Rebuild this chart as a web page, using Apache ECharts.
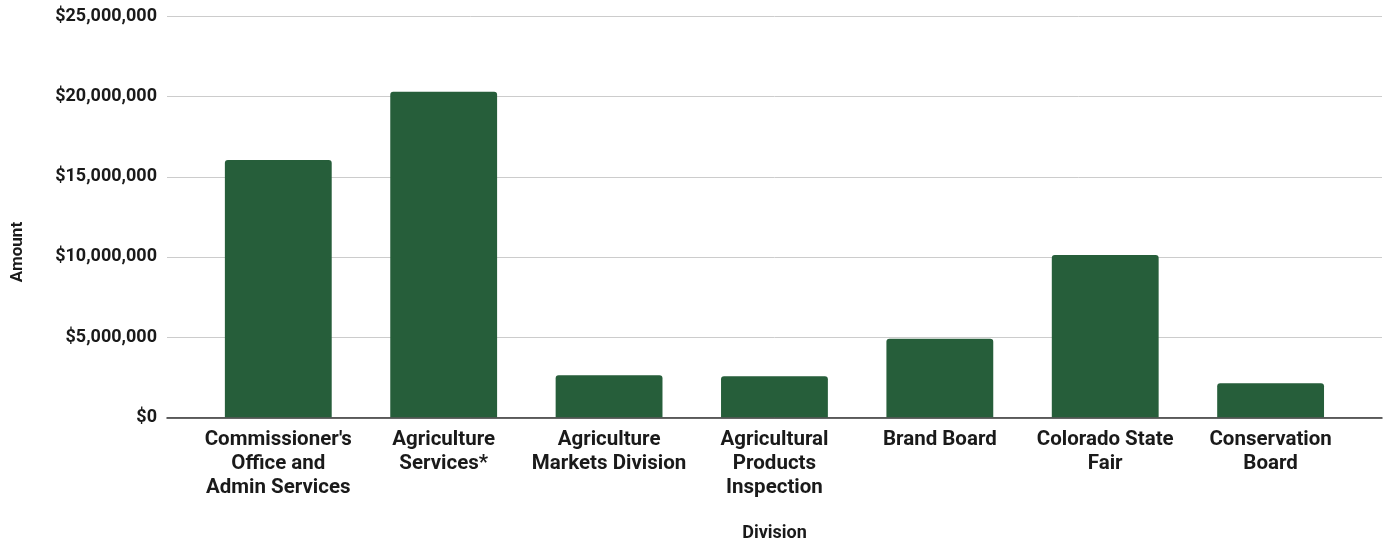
<!DOCTYPE html>
<html>
<head>
<meta charset="utf-8">
<script src="https://cdn.jsdelivr.net/npm/echarts@6/dist/echarts.min.js"></script>
<style>
  html, body { margin: 0; padding: 0; background: #fff; }
  #chart { width: 1389px; height: 541px; }
</style>
</head>
<body>
<div id="chart"></div>
<script>
// Division budget amounts
const divisions = [
  "Commissioner's\nOffice and\nAdmin Services",
  "Agriculture\nServices*",
  "Agriculture\nMarkets Division",
  "Agricultural\nProducts\nInspection",
  "Brand Board",
  "Colorado State\nFair",
  "Conservation\nBoard"
];
const amounts = [16050000, 20300000, 2630000, 2560000, 4900000, 10120000, 2120000];
const yTicks = [0, 5000000, 10000000, 15000000, 20000000, 25000000];

const FONT = 'Roboto';
const fmtDollar = v => '$' + Math.round(v).toLocaleString('en-US');

const chart = echarts.init(document.getElementById('chart'), null, { renderer: 'canvas' });

const gridTop = 16.5, gridBottom = 541 - 417.3;

chart.setOption({
  animation: false,
  backgroundColor: '#ffffff',
  grid: [
    // frame grid: value labels, gridlines and baseline across the full width
    { left: 167, right: 7, top: gridTop, bottom: gridBottom },
    // bar grid: category bands
    { left: 195.6, right: 35.7, top: gridTop, bottom: gridBottom }
  ],
  xAxis: [
    {
      gridIndex: 0, type: 'category', data: [''],
      axisLine: { show: true, lineStyle: { color: '#333333', width: 1.5 } },
      axisTick: { show: false }, axisLabel: { show: false }, splitLine: { show: false }
    },
    {
      gridIndex: 1, type: 'category', data: divisions,
      axisLine: { show: false }, axisTick: { show: false },
      axisLabel: {
        interval: 0, margin: 11,
        fontFamily: FONT, fontWeight: 'bold', fontSize: 20.5, lineHeight: 24,
        color: '#1a1a1a', align: 'center'
      }
    }
  ],
  yAxis: [
    {
      gridIndex: 0, type: 'value', min: 0, max: 25000000, interval: 5000000,
      axisLine: { show: false }, axisTick: { show: false },
      axisLabel: {
        margin: 10, fontFamily: FONT, fontWeight: 'bold', fontSize: 18, color: '#1a1a1a',
        formatter: v => yTicks.includes(v) ? fmtDollar(v) : ''
      },
      splitLine: { show: true, lineStyle: { color: '#cccccc', width: 1 } }
    },
    {
      gridIndex: 1, type: 'value', min: 0, max: 25000000, interval: 5000000,
      show: false, splitLine: { show: false }
    }
  ],
  graphic: [
    {
      type: 'text', x: 18, y: 252, rotation: Math.PI / 2,
      style: { text: 'Amount', fontFamily: FONT, fontWeight: 'bold', fontSize: 17, fill: '#1a1a1a',
               textAlign: 'center', textVerticalAlign: 'middle' }
    },
    {
      type: 'text', x: 774.5, y: 533,
      style: { text: 'Division', fontFamily: FONT, fontWeight: 'bold', fontSize: 18, fill: '#1a1a1a',
               textAlign: 'center', textVerticalAlign: 'middle' }
    }
  ],
  series: [
    {
      type: 'bar', xAxisIndex: 1, yAxisIndex: 1, data: amounts,
      barWidth: '64.6%',
      itemStyle: { color: '#265e3a', borderRadius: [3, 3, 0, 0] }
    }
  ]
});
</script>
</body>
</html>
